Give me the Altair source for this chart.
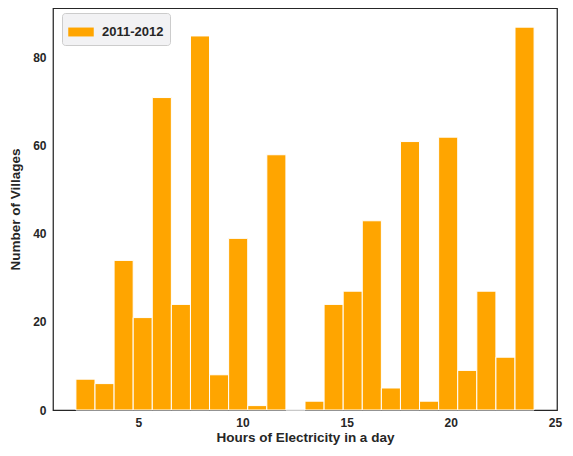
import altair as alt
import pandas as pd

counts = [7, 6, 34, 21, 71, 24, 85, 8, 39, 1, 58, 0, 2, 24, 27, 43, 5, 61, 2, 62, 9, 27, 12, 87]
hours_min = 2
hours_max = 24
series = "2011-2012"

n = len(counts)
w = (hours_max - hours_min) / n
df = pd.DataFrame({
    "start": [hours_min + i * w for i in range(n)],
    "end": [hours_min + (i + 1) * w for i in range(n)],
    "count": counts,
    "series": [series] * n,
})

font = "Liberation Sans"

chart = alt.Chart(df).mark_rect(stroke="white", strokeWidth=1).encode(
    x=alt.X("start:Q", scale=alt.Scale(domain=[0.9, 25.1], nice=False, zero=False),
            axis=alt.Axis(values=[5, 10, 15, 20, 25], title="Hours of Electricity in a day")),
    x2="end:Q",
    y=alt.Y("count:Q", scale=alt.Scale(domain=[0, 91.35], nice=False),
            axis=alt.Axis(values=[0, 20, 40, 60, 80], title="Number of Villages")),
    color=alt.Color("series:N", scale=alt.Scale(range=["#FFA500"]),
                    legend=alt.Legend(title=None, orient="none", legendX=9, legendY=5,
                                      fillColor="#f2f2f4", strokeColor="#cccccc",
                                      cornerRadius=3, padding=6,
                                      symbolType="M-1,-0.35H1V0.35H-1Z", symbolSize=650,
                                      symbolStrokeWidth=0, labelOffset=8,
                                      labelFont=font, labelFontSize=13, labelFontWeight="bold",
                                      labelColor="#262626")),
).properties(
    width=504, height=402,
    padding={"left": 45, "top": 0, "right": 8, "bottom": 37},
    autosize=alt.AutoSizeParams(type="none"),
).configure_view(
    stroke="#262626", strokeWidth=1.25
).configure_axis(
    domain=False, ticks=False, grid=False,
    labelFont=font, labelFontSize=12, labelFontWeight="bold", labelColor="#262626",
    titleFont=font, titleFontSize=13.5, titleFontWeight="bold", titleColor="#262626",
    labelPadding=7,
).configure_axisY(titlePadding=10).configure_axisX(titlePadding=2)

chart.save("out.html", embed_options={"renderer": "svg", "actions": False})
